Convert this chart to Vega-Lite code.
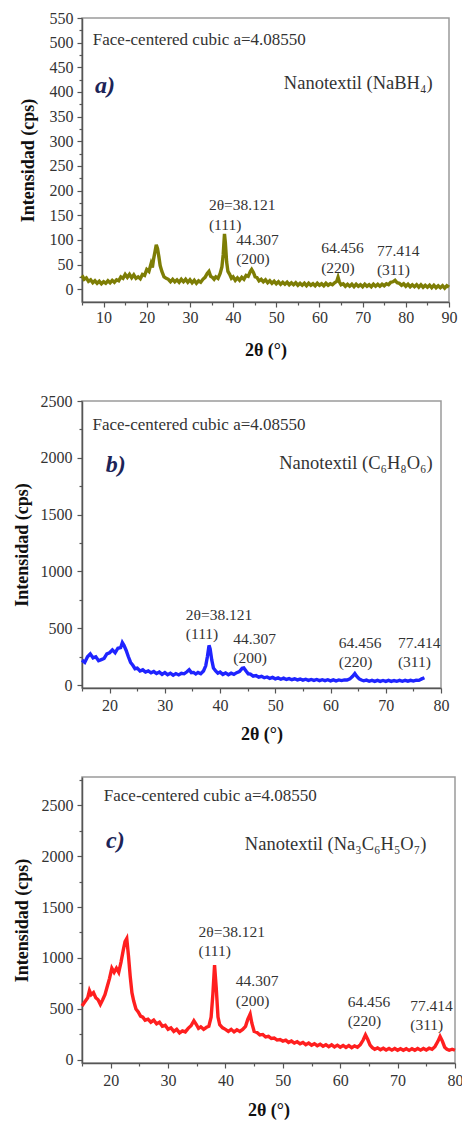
{
  "$schema": "https://vega.github.io/schema/vega-lite/v6.json",
  "padding": {"left": 12, "top": 9, "right": 4, "bottom": 0},
  "background": "white",
  "columns": 1,
  "align": "none",
  "spacing": 32,
  "datasets": {
    "a": [
      {"t":5,"i":28},{"t":5.5,"i":20},{"t":6,"i":23},{"t":6.5,"i":16},{"t":7,"i":19},{"t":7.5,"i":13},{"t":8,"i":17},{"t":8.5,"i":12},{"t":9,"i":16},{"t":9.5,"i":11},
      {"t":10,"i":15},{"t":10.5,"i":12},{"t":11,"i":17},{"t":11.5,"i":13},{"t":12,"i":18},{"t":12.5,"i":14},{"t":13,"i":19},{"t":13.5,"i":17},{"t":14,"i":25},{"t":14.5,"i":22},
      {"t":15,"i":30},{"t":15.5,"i":24},{"t":16,"i":30},{"t":16.5,"i":23},{"t":17,"i":29},{"t":17.5,"i":22},{"t":18,"i":25},{"t":18.5,"i":21},{"t":19,"i":30},{"t":19.5,"i":28},
      {"t":20,"i":40},{"t":20.5,"i":36},{"t":21,"i":52},{"t":21.3,"i":44},{"t":21.6,"i":62},{"t":21.9,"i":76},{"t":22.2,"i":90},{"t":22.5,"i":82},{"t":22.8,"i":66},{"t":23.1,"i":48},
      {"t":23.5,"i":36},{"t":24,"i":25},{"t":24.5,"i":22},{"t":25,"i":20},{"t":25.5,"i":15},{"t":26,"i":20},{"t":26.5,"i":15},{"t":27,"i":19},{"t":27.5,"i":14},{"t":28,"i":20},
      {"t":28.5,"i":15},{"t":29,"i":20},{"t":29.5,"i":14},{"t":30,"i":19},{"t":30.5,"i":13},{"t":31,"i":18},{"t":31.5,"i":12},{"t":32,"i":17},{"t":32.5,"i":14},{"t":33,"i":20},
      {"t":33.5,"i":24},{"t":34,"i":32},{"t":34.4,"i":36},{"t":34.8,"i":26},{"t":35.2,"i":24},{"t":35.6,"i":20},{"t":36,"i":25},{"t":36.5,"i":22},{"t":37,"i":32},{"t":37.4,"i":45},
      {"t":37.7,"i":70},{"t":38,"i":112},{"t":38.2,"i":95},{"t":38.5,"i":55},{"t":38.8,"i":36},{"t":39.2,"i":30},{"t":39.6,"i":22},{"t":40,"i":25},{"t":40.5,"i":18},{"t":41,"i":23},
      {"t":41.5,"i":18},{"t":42,"i":24},{"t":42.5,"i":20},{"t":43,"i":28},{"t":43.5,"i":26},{"t":44,"i":36},{"t":44.3,"i":40},{"t":44.7,"i":34},{"t":45.1,"i":25},{"t":45.5,"i":24},
      {"t":46,"i":17},{"t":46.5,"i":20},{"t":47,"i":15},{"t":47.5,"i":19},{"t":48,"i":13},{"t":48.5,"i":17},{"t":49,"i":12},{"t":49.5,"i":16},{"t":50,"i":11},{"t":50.5,"i":15},
      {"t":51,"i":10},{"t":51.5,"i":14},{"t":52,"i":10},{"t":52.5,"i":14},{"t":53,"i":9},{"t":53.5,"i":13},{"t":54,"i":9},{"t":54.5,"i":13},{"t":55,"i":8},{"t":55.5,"i":12},
      {"t":56,"i":8},{"t":56.5,"i":12},{"t":57,"i":7},{"t":57.5,"i":12},{"t":58,"i":8},{"t":58.5,"i":11},{"t":59,"i":7},{"t":59.5,"i":12},{"t":60,"i":8},{"t":60.5,"i":11},
      {"t":61,"i":7},{"t":61.5,"i":12},{"t":62,"i":8},{"t":62.5,"i":11},{"t":63,"i":9},{"t":63.5,"i":13},{"t":64,"i":16},{"t":64.3,"i":24},{"t":64.6,"i":15},{"t":65,"i":9},
      {"t":65.5,"i":11},{"t":66,"i":6},{"t":66.5,"i":10},{"t":67,"i":6},{"t":67.5,"i":10},{"t":68,"i":5},{"t":68.5,"i":10},{"t":69,"i":6},{"t":69.5,"i":9},{"t":70,"i":5},
      {"t":70.5,"i":10},{"t":71,"i":6},{"t":71.5,"i":9},{"t":72,"i":5},{"t":72.5,"i":10},{"t":73,"i":6},{"t":73.5,"i":10},{"t":74,"i":6},{"t":74.5,"i":10},{"t":75,"i":7},
      {"t":75.5,"i":11},{"t":76,"i":9},{"t":76.5,"i":14},{"t":77,"i":15},{"t":77.5,"i":18},{"t":78,"i":13},{"t":78.5,"i":12},{"t":79,"i":8},{"t":79.5,"i":11},{"t":80,"i":6},
      {"t":80.5,"i":10},{"t":81,"i":5},{"t":81.5,"i":9},{"t":82,"i":5},{"t":82.5,"i":9},{"t":83,"i":4},{"t":83.5,"i":9},{"t":84,"i":4},{"t":84.5,"i":8},{"t":85,"i":4},
      {"t":85.5,"i":8},{"t":86,"i":3},{"t":86.5,"i":8},{"t":87,"i":3},{"t":87.5,"i":7},{"t":88,"i":3},{"t":88.5,"i":7},{"t":89,"i":2},{"t":89.5,"i":7},{"t":90,"i":4}
    ],
    "b": [
      {"t":15,"i":220},{"t":15.5,"i":200},{"t":16,"i":250},{"t":16.5,"i":275},{"t":17,"i":240},{"t":17.5,"i":250},{"t":18,"i":215},{"t":18.5,"i":225},{"t":19,"i":235},{"t":19.5,"i":275},
      {"t":20,"i":285},{"t":20.5,"i":310},{"t":21,"i":285},{"t":21.5,"i":325},{"t":22,"i":330},{"t":22.3,"i":375},{"t":22.6,"i":350},{"t":23,"i":305},{"t":23.4,"i":250},{"t":23.8,"i":200},
      {"t":24.2,"i":175},{"t":24.6,"i":145},{"t":25,"i":150},{"t":25.5,"i":125},{"t":26,"i":135},{"t":26.5,"i":115},{"t":27,"i":125},{"t":27.5,"i":108},{"t":28,"i":120},{"t":28.5,"i":102},
      {"t":29,"i":115},{"t":29.5,"i":95},{"t":30,"i":110},{"t":30.5,"i":92},{"t":31,"i":105},{"t":31.5,"i":88},{"t":32,"i":102},{"t":32.5,"i":90},{"t":33,"i":105},{"t":33.5,"i":100},
      {"t":34,"i":118},{"t":34.4,"i":135},{"t":34.8,"i":110},{"t":35.2,"i":112},{"t":35.6,"i":98},{"t":36,"i":112},{"t":36.5,"i":100},{"t":37,"i":125},{"t":37.4,"i":170},{"t":37.7,"i":250},
      {"t":38,"i":350},{"t":38.2,"i":320},{"t":38.5,"i":220},{"t":38.8,"i":150},{"t":39.2,"i":125},{"t":39.6,"i":105},{"t":40,"i":115},{"t":40.5,"i":95},{"t":41,"i":108},{"t":41.5,"i":92},
      {"t":42,"i":105},{"t":42.5,"i":95},{"t":43,"i":110},{"t":43.5,"i":120},{"t":44,"i":148},{"t":44.3,"i":152},{"t":44.7,"i":125},{"t":45.1,"i":100},{"t":45.5,"i":98},{"t":46,"i":80},
      {"t":46.5,"i":85},{"t":47,"i":70},{"t":47.5,"i":78},{"t":48,"i":65},{"t":48.5,"i":72},{"t":49,"i":60},{"t":49.5,"i":68},{"t":50,"i":56},{"t":50.5,"i":64},{"t":51,"i":52},
      {"t":51.5,"i":62},{"t":52,"i":50},{"t":52.5,"i":58},{"t":53,"i":48},{"t":53.5,"i":56},{"t":54,"i":46},{"t":54.5,"i":54},{"t":55,"i":44},{"t":55.5,"i":52},{"t":56,"i":42},
      {"t":56.5,"i":50},{"t":57,"i":42},{"t":57.5,"i":50},{"t":58,"i":40},{"t":58.5,"i":48},{"t":59,"i":40},{"t":59.5,"i":48},{"t":60,"i":38},{"t":60.5,"i":47},{"t":61,"i":38},
      {"t":61.5,"i":46},{"t":62,"i":40},{"t":62.5,"i":46},{"t":63,"i":45},{"t":63.5,"i":55},{"t":64,"i":78},{"t":64.4,"i":102},{"t":64.8,"i":75},{"t":65.2,"i":55},{"t":65.6,"i":45},
      {"t":66,"i":38},{"t":66.5,"i":44},{"t":67,"i":34},{"t":67.5,"i":42},{"t":68,"i":33},{"t":68.5,"i":42},{"t":69,"i":33},{"t":69.5,"i":41},{"t":70,"i":33},{"t":70.5,"i":42},
      {"t":71,"i":33},{"t":71.5,"i":41},{"t":72,"i":34},{"t":72.5,"i":42},{"t":73,"i":34},{"t":73.5,"i":42},{"t":74,"i":35},{"t":74.5,"i":43},{"t":75,"i":36},{"t":75.5,"i":44},
      {"t":76,"i":42},{"t":76.5,"i":55},{"t":77,"i":65}
    ],
    "c": [
      {"t":15,"i":530},{"t":15.5,"i":570},{"t":16,"i":610},{"t":16.3,"i":680},{"t":16.6,"i":640},{"t":17,"i":660},{"t":17.4,"i":610},{"t":17.8,"i":590},{"t":18.2,"i":545},{"t":18.6,"i":590},
      {"t":19,"i":640},{"t":19.4,"i":720},{"t":19.8,"i":800},{"t":20.2,"i":900},{"t":20.6,"i":860},{"t":21,"i":900},{"t":21.4,"i":860},{"t":21.8,"i":960},{"t":22.2,"i":1080},{"t":22.5,"i":1160},
      {"t":22.8,"i":1190},{"t":23.1,"i":1020},{"t":23.4,"i":820},{"t":23.7,"i":660},{"t":24,"i":580},{"t":24.4,"i":500},{"t":24.8,"i":470},{"t":25.2,"i":430},{"t":25.6,"i":420},{"t":26,"i":390},
      {"t":26.5,"i":400},{"t":27,"i":370},{"t":27.5,"i":390},{"t":28,"i":355},{"t":28.5,"i":370},{"t":29,"i":330},{"t":29.5,"i":340},{"t":30,"i":300},{"t":30.5,"i":315},{"t":31,"i":280},
      {"t":31.5,"i":300},{"t":32,"i":265},{"t":32.5,"i":285},{"t":33,"i":275},{"t":33.5,"i":310},{"t":34,"i":335},{"t":34.5,"i":385},{"t":34.9,"i":350},{"t":35.3,"i":310},{"t":35.7,"i":325},
      {"t":36.2,"i":300},{"t":36.7,"i":320},{"t":37.1,"i":330},{"t":37.5,"i":420},{"t":37.8,"i":640},{"t":38.1,"i":930},{"t":38.4,"i":700},{"t":38.7,"i":420},{"t":39,"i":345},{"t":39.5,"i":315},
      {"t":40,"i":300},{"t":40.5,"i":280},{"t":41,"i":300},{"t":41.5,"i":275},{"t":42,"i":295},{"t":42.5,"i":280},{"t":43,"i":300},{"t":43.5,"i":330},{"t":43.9,"i":400},{"t":44.3,"i":450},
      {"t":44.6,"i":360},{"t":45,"i":280},{"t":45.5,"i":270},{"t":46,"i":245},{"t":46.5,"i":250},{"t":47,"i":225},{"t":47.5,"i":232},{"t":48,"i":210},{"t":48.5,"i":215},{"t":49,"i":195},
      {"t":49.5,"i":200},{"t":50,"i":185},{"t":50.5,"i":195},{"t":51,"i":172},{"t":51.5,"i":185},{"t":52,"i":165},{"t":52.5,"i":178},{"t":53,"i":158},{"t":53.5,"i":172},{"t":54,"i":150},
      {"t":54.5,"i":165},{"t":55,"i":145},{"t":55.5,"i":160},{"t":56,"i":140},{"t":56.5,"i":155},{"t":57,"i":135},{"t":57.5,"i":150},{"t":58,"i":130},{"t":58.5,"i":148},{"t":59,"i":128},
      {"t":59.5,"i":145},{"t":60,"i":125},{"t":60.5,"i":142},{"t":61,"i":122},{"t":61.5,"i":140},{"t":62,"i":120},{"t":62.5,"i":138},{"t":63,"i":125},{"t":63.5,"i":150},{"t":64,"i":195},
      {"t":64.4,"i":245},{"t":64.8,"i":200},{"t":65.2,"i":145},{"t":65.6,"i":120},{"t":66,"i":105},{"t":66.5,"i":118},{"t":67,"i":100},{"t":67.5,"i":115},{"t":68,"i":98},{"t":68.5,"i":112},
      {"t":69,"i":96},{"t":69.5,"i":112},{"t":70,"i":95},{"t":70.5,"i":110},{"t":71,"i":95},{"t":71.5,"i":110},{"t":72,"i":94},{"t":72.5,"i":110},{"t":73,"i":95},{"t":73.5,"i":112},
      {"t":74,"i":96},{"t":74.5,"i":112},{"t":75,"i":98},{"t":75.5,"i":115},{"t":76,"i":105},{"t":76.5,"i":130},{"t":77,"i":180},{"t":77.4,"i":230},{"t":77.8,"i":185},{"t":78.2,"i":125},
      {"t":78.6,"i":105},{"t":79,"i":95},{"t":79.5,"i":105},{"t":80,"i":95}
    ],
    "notes": [
      {"p":"a","kind":"fcc","label":"Face-centered cubic a=4.08550","t":7.5,"i":505},
      {"p":"a","kind":"letter","label":"a)","t":8.0,"i":412},
      {"p":"a","kind":"name","label":"Nanotextil (NaBH₄)","t":86.2,"i":418},
      {"p":"a","kind":"peak","label":"2θ=38.121","t":34.4,"i":170},
      {"p":"a","kind":"peak","label":"(111)","t":34.4,"i":130},
      {"p":"a","kind":"peak","label":"44.307","t":40.7,"i":99},
      {"p":"a","kind":"peak","label":"(200)","t":40.7,"i":61},
      {"p":"a","kind":"peak","label":"64.456","t":60.4,"i":83},
      {"p":"a","kind":"peak","label":"(220)","t":60.4,"i":43},
      {"p":"a","kind":"peak","label":"77.414","t":73.3,"i":77},
      {"p":"a","kind":"peak","label":"(311)","t":73.3,"i":39},
      {"p":"b","kind":"fcc","label":"Face-centered cubic a=4.08550","t":16.9,"i":2289},
      {"p":"b","kind":"letter","label":"b)","t":19.3,"i":1935},
      {"p":"b","kind":"name","label":"Nanotextil (C₆H₈O₆)","t":78.5,"i":1954},
      {"p":"b","kind":"peak","label":"2θ=38.121","t":33.8,"i":616},
      {"p":"b","kind":"peak","label":"(111)","t":33.8,"i":449},
      {"p":"b","kind":"peak","label":"44.307","t":42.4,"i":405},
      {"p":"b","kind":"peak","label":"(200)","t":42.4,"i":235},
      {"p":"b","kind":"peak","label":"64.456","t":61.5,"i":370},
      {"p":"b","kind":"peak","label":"(220)","t":61.5,"i":200},
      {"p":"b","kind":"peak","label":"77.414","t":72.2,"i":370},
      {"p":"b","kind":"peak","label":"(311)","t":72.2,"i":200},
      {"p":"c","kind":"fcc","label":"Face-centered cubic a=4.08550","t":18.8,"i":2589},
      {"p":"c","kind":"letter","label":"c)","t":19.2,"i":2150},
      {"p":"c","kind":"name","label":"Nanotextil (Na₃C₆H₅O₇)","t":75.0,"i":2122},
      {"p":"c","kind":"peak","label":"2θ=38.121","t":35.3,"i":1251},
      {"p":"c","kind":"peak","label":"(111)","t":35.3,"i":1065},
      {"p":"c","kind":"peak","label":"44.307","t":41.8,"i":771},
      {"p":"c","kind":"peak","label":"(200)","t":41.8,"i":581},
      {"p":"c","kind":"peak","label":"64.456","t":61.3,"i":565},
      {"p":"c","kind":"peak","label":"(220)","t":61.3,"i":379},
      {"p":"c","kind":"peak","label":"77.414","t":72.2,"i":532},
      {"p":"c","kind":"peak","label":"(311)","t":72.2,"i":343}
    ]
  },
  "concat": [
    {
      "width": 367, "height": 284,
      "resolve": {"axis": {"x": "independent", "y": "independent"}},
      "layer": [
        {
          "data": {"name": "a"},
          "mark": {"type": "line", "color": "#7d7d05", "strokeWidth": 3.4},
          "encoding": {
            "x": {"field": "t", "type": "quantitative", "scale": {"domain": [5, 90], "nice": false, "zero": false},
                  "axis": {"values": [10,20,30,40,50,60,70,80,90], "format": "d", "title": "2θ (°)", "labelPadding": 2, "titlePadding": 16, "labelFont": "Liberation Serif", "titleFont": "Liberation Serif"}},
            "y": {"field": "i", "type": "quantitative", "scale": {"domain": [-26, 550], "nice": false, "zero": false},
                  "axis": {"values": [0,50,100,150,200,250,300,350,400,450,500,550], "format": "d", "title": "Intensidad (cps)", "labelPadding": 4, "titlePadding": 12, "labelFont": "Liberation Serif", "titleFont": "Liberation Serif"}}
          }
        },
        {
          "data": {"name": "notes"},
          "transform": [{"filter": "datum.p === 'a' && datum.kind === 'peak'"}],
          "mark": {"type": "text", "align": "left", "baseline": "middle", "fontSize": 15.5, "color": "#333333", "font": "Liberation Serif"},
          "encoding": {
            "x": {"field": "t", "type": "quantitative", "axis": {"orient": "bottom", "values": [5,15,25,35,45,55,65,75,85], "labels": false, "domain": false, "tickSize": 3, "title": null}},
            "y": {"field": "i", "type": "quantitative", "axis": {"orient": "left", "values": [25,75,125,175,225,275,325,375,425,475,525], "labels": false, "domain": false, "tickSize": 3, "title": null}},
            "text": {"field": "label"}
          }
        },
        {
          "data": {"name": "notes"},
          "transform": [{"filter": "datum.p === 'a' && datum.kind === 'fcc'"}],
          "mark": {"type": "text", "align": "left", "baseline": "middle", "fontSize": 17, "color": "#333333", "font": "Liberation Serif"},
          "encoding": {"x": {"field": "t", "type": "quantitative", "axis": null}, "y": {"field": "i", "type": "quantitative", "axis": null}, "text": {"field": "label"}}
        },
        {
          "data": {"name": "notes"},
          "transform": [{"filter": "datum.p === 'a' && datum.kind === 'name'"}],
          "mark": {"type": "text", "align": "right", "baseline": "middle", "fontSize": 18.5, "color": "#333333", "font": "Liberation Serif"},
          "encoding": {"x": {"field": "t", "type": "quantitative", "axis": null}, "y": {"field": "i", "type": "quantitative", "axis": null}, "text": {"field": "label"}}
        },
        {
          "data": {"name": "notes"},
          "transform": [{"filter": "datum.p === 'a' && datum.kind === 'letter'"}],
          "mark": {"type": "text", "align": "left", "baseline": "middle", "fontSize": 24, "fontWeight": "bold", "fontStyle": "italic", "color": "#1c2457", "font": "Liberation Serif"},
          "encoding": {"x": {"field": "t", "type": "quantitative", "axis": null}, "y": {"field": "i", "type": "quantitative", "axis": null}, "text": {"field": "label"}}
        }
      ]
    },
    {
      "width": 359, "height": 287,
      "resolve": {"axis": {"x": "independent", "y": "independent"}},
      "layer": [
        {
          "data": {"name": "b"},
          "mark": {"type": "line", "color": "#1f24ff", "strokeWidth": 3.4},
          "encoding": {
            "x": {"field": "t", "type": "quantitative", "scale": {"domain": [15, 80], "nice": false, "zero": false},
                  "axis": {"values": [20,30,40,50,60,70,80], "format": "d", "title": "2θ (°)", "labelPadding": 4, "titlePadding": 12, "labelFont": "Liberation Serif", "titleFont": "Liberation Serif"}},
            "y": {"field": "i", "type": "quantitative", "scale": {"domain": [-25, 2500], "nice": false, "zero": false},
                  "axis": {"values": [0,500,1000,1500,2000,2500], "format": "d", "title": "Intensidad (cps)", "labelPadding": 5, "titlePadding": 9, "labelFont": "Liberation Serif", "titleFont": "Liberation Serif"}}
          }
        },
        {
          "data": {"name": "notes"},
          "transform": [{"filter": "datum.p === 'b' && datum.kind === 'peak'"}],
          "mark": {"type": "text", "align": "left", "baseline": "middle", "fontSize": 15.5, "color": "#333333", "font": "Liberation Serif"},
          "encoding": {
            "x": {"field": "t", "type": "quantitative", "axis": {"orient": "bottom", "values": [15,25,35,45,55,65,75], "labels": false, "domain": false, "tickSize": 3, "title": null}},
            "y": {"field": "i", "type": "quantitative", "axis": {"orient": "left", "values": [250,750,1250,1750,2250], "labels": false, "domain": false, "tickSize": 3, "title": null}},
            "text": {"field": "label"}
          }
        },
        {
          "data": {"name": "notes"},
          "transform": [{"filter": "datum.p === 'b' && datum.kind === 'fcc'"}],
          "mark": {"type": "text", "align": "left", "baseline": "middle", "fontSize": 17, "color": "#333333", "font": "Liberation Serif"},
          "encoding": {"x": {"field": "t", "type": "quantitative", "axis": null}, "y": {"field": "i", "type": "quantitative", "axis": null}, "text": {"field": "label"}}
        },
        {
          "data": {"name": "notes"},
          "transform": [{"filter": "datum.p === 'b' && datum.kind === 'name'"}],
          "mark": {"type": "text", "align": "right", "baseline": "middle", "fontSize": 18.5, "color": "#333333", "font": "Liberation Serif"},
          "encoding": {"x": {"field": "t", "type": "quantitative", "axis": null}, "y": {"field": "i", "type": "quantitative", "axis": null}, "text": {"field": "label"}}
        },
        {
          "data": {"name": "notes"},
          "transform": [{"filter": "datum.p === 'b' && datum.kind === 'letter'"}],
          "mark": {"type": "text", "align": "left", "baseline": "middle", "fontSize": 24, "fontWeight": "bold", "fontStyle": "italic", "color": "#1c2457", "font": "Liberation Serif"},
          "encoding": {"x": {"field": "t", "type": "quantitative", "axis": null}, "y": {"field": "i", "type": "quantitative", "axis": null}, "text": {"field": "label"}}
        }
      ]
    },
    {
      "width": 373, "height": 286,
      "resolve": {"axis": {"x": "independent", "y": "independent"}},
      "layer": [
        {
          "data": {"name": "c"},
          "mark": {"type": "line", "color": "#ff1f1f", "strokeWidth": 3.4},
          "encoding": {
            "x": {"field": "t", "type": "quantitative", "scale": {"domain": [15, 80], "nice": false, "zero": false},
                  "axis": {"values": [20,30,40,50,60,70,80], "format": "d", "title": "2θ (°)", "labelPadding": 4, "titlePadding": 13, "labelFont": "Liberation Serif", "titleFont": "Liberation Serif"}},
            "y": {"field": "i", "type": "quantitative", "scale": {"domain": [-30, 2775], "nice": false, "zero": false},
                  "axis": {"values": [0,500,1000,1500,2000,2500], "format": "d", "title": "Intensidad (cps)", "labelPadding": 4, "titlePadding": 10, "labelFont": "Liberation Serif", "titleFont": "Liberation Serif"}}
          }
        },
        {
          "data": {"name": "notes"},
          "transform": [{"filter": "datum.p === 'c' && datum.kind === 'peak'"}],
          "mark": {"type": "text", "align": "left", "baseline": "middle", "fontSize": 15.5, "color": "#333333", "font": "Liberation Serif"},
          "encoding": {
            "x": {"field": "t", "type": "quantitative", "axis": {"orient": "bottom", "values": [15,25,35,45,55,65,75], "labels": false, "domain": false, "tickSize": 3, "title": null}},
            "y": {"field": "i", "type": "quantitative", "axis": {"orient": "left", "values": [250,750,1250,1750,2250,2750], "labels": false, "domain": false, "tickSize": 3, "title": null}},
            "text": {"field": "label"}
          }
        },
        {
          "data": {"name": "notes"},
          "transform": [{"filter": "datum.p === 'c' && datum.kind === 'fcc'"}],
          "mark": {"type": "text", "align": "left", "baseline": "middle", "fontSize": 17, "color": "#333333", "font": "Liberation Serif"},
          "encoding": {"x": {"field": "t", "type": "quantitative", "axis": null}, "y": {"field": "i", "type": "quantitative", "axis": null}, "text": {"field": "label"}}
        },
        {
          "data": {"name": "notes"},
          "transform": [{"filter": "datum.p === 'c' && datum.kind === 'name'"}],
          "mark": {"type": "text", "align": "right", "baseline": "middle", "fontSize": 18.5, "color": "#333333", "font": "Liberation Serif"},
          "encoding": {"x": {"field": "t", "type": "quantitative", "axis": null}, "y": {"field": "i", "type": "quantitative", "axis": null}, "text": {"field": "label"}}
        },
        {
          "data": {"name": "notes"},
          "transform": [{"filter": "datum.p === 'c' && datum.kind === 'letter'"}],
          "mark": {"type": "text", "align": "left", "baseline": "middle", "fontSize": 24, "fontWeight": "bold", "fontStyle": "italic", "color": "#1c2457", "font": "Liberation Serif"},
          "encoding": {"x": {"field": "t", "type": "quantitative", "axis": null}, "y": {"field": "i", "type": "quantitative", "axis": null}, "text": {"field": "label"}}
        }
      ]
    }
  ],
  "config": {
    "font": "Liberation Serif",
    "view": {"stroke": "#9a9a9a", "strokeWidth": 1.5},
    "text": {"font": "Liberation Serif"},
    "style": {"guide-label": {"font": "Liberation Serif"}, "guide-title": {"font": "Liberation Serif"}},
    "axis": {
      "labelFont": "Liberation Serif", "labelFontSize": 16, "labelColor": "#333333",
      "titleFont": "Liberation Serif", "titleFontSize": 18, "titleFontWeight": "bold", "titleColor": "#111111",
      "grid": false, "domainColor": "#555555", "domainWidth": 1.5, "tickColor": "#555555", "tickSize": 5, "tickWidth": 1.2,
      "labelFlush": false, "labelOverlap": false
    }
  }
}
